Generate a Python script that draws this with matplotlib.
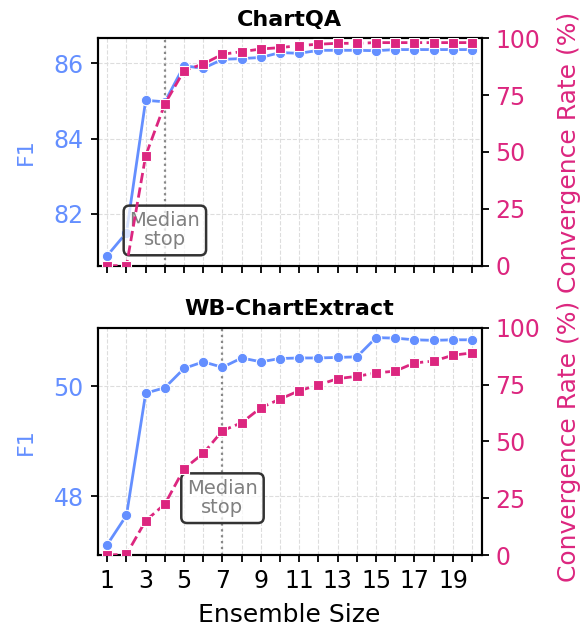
import matplotlib.pyplot as plt

BLAU = "#648FFF"
MAGENTA = "#DC267F"

ensemble_groesse = list(range(1, 21))

# ChartQA
chartqa_f1 = [80.89, 81.50, 85.02, 84.98, 85.94, 85.87, 86.11, 86.13, 86.16, 86.29,
              86.27, 86.35, 86.35, 86.35, 86.34, 86.37, 86.37, 86.37, 86.37, 86.37]
chartqa_konvergenz = [0.0, 0.0, 48.4, 71.2, 85.8, 88.7, 93.0, 94.1, 95.3, 95.9,
                      96.8, 97.4, 97.8, 97.8, 98.1, 98.1, 98.1, 98.1, 98.1, 98.1]
chartqa_median = 4

# WB-ChartExtract
wb_f1 = [47.12, 47.65, 49.87, 49.97, 50.32, 50.44, 50.34, 50.51, 50.44, 50.50,
         50.51, 50.51, 50.52, 50.53, 50.88, 50.87, 50.84, 50.83, 50.84, 50.84]
wb_konvergenz = [0.0, 0.3, 15.1, 22.4, 38.0, 44.7, 54.7, 58.2, 64.8, 68.6,
                 72.3, 74.8, 77.6, 78.6, 80.1, 80.9, 84.5, 85.3, 87.9, 88.9]
wb_median = 7

x_ticks = list(range(1, 21))
x_tick_labels = [str(i) if i % 2 == 1 else "" for i in x_ticks]

plt.rcParams['font.family'] = ['DejaVu Sans']
plt.rcParams['font.size'] = 17

fig = plt.figure(figsize=(5.87, 6.32), dpi=100)
ax_oben = fig.add_axes([0.1664, 0.5796, 0.6542, 0.3598])
ax_unten = fig.add_axes([0.1664, 0.1218, 0.6542, 0.3597])


def Panel_Zeichnen(ax, titel, f1, konvergenz, median, f1_lim, f1_ticks, text_y, x_labels):
    ax.grid(True, color="#dddddd", linestyle="--", linewidth=0.8)
    ax.set_axisbelow(True)
    ax.plot(ensemble_groesse, f1, color=BLAU, marker="o", markersize=7.5,
            markeredgecolor="white", markeredgewidth=0.8, linewidth=2, zorder=3)
    ax.axvline(median, color="#888888", linestyle=":", linewidth=1.6, zorder=2)
    ax.text(median, text_y, "Median\nstop", transform=ax.get_xaxis_transform(),
            ha="center", va="center", color="#808080", fontsize=14, zorder=5,
            linespacing=1.0,
            bbox=dict(boxstyle="round,pad=0.3", facecolor=(1, 1, 1, 0.75),
                      edgecolor="#333333", linewidth=1.8))
    ax.set_xlim(0.5, 20.5)
    ax.set_ylim(*f1_lim)
    ax.set_yticks(f1_ticks)
    ax.set_xticks(x_ticks)
    ax.set_xticklabels(x_labels)
    ax.set_ylabel("F1", color=BLAU, fontsize=16, labelpad=13)
    ax.tick_params(axis="y", labelcolor=BLAU)
    ax.tick_params(length=5, width=1.3, pad=5)
    ax.set_title(titel, fontsize=16, fontweight="bold", pad=9)

    ax2 = ax.twinx()
    ax2.plot(ensemble_groesse, konvergenz, color=MAGENTA, marker="s", markersize=7,
             markeredgecolor="white", markeredgewidth=0.8, linewidth=2,
             linestyle="--", zorder=3)
    ax2.set_ylim(0, 100)
    ax2.set_yticks([0, 25, 50, 75, 100])
    ax2.set_ylabel("Convergence Rate (%)", color=MAGENTA, fontsize=18, labelpad=12)
    ax2.tick_params(axis="y", labelcolor=MAGENTA, length=5, width=1.3, pad=5)
    for a in (ax, ax2):
        for spine in a.spines.values():
            spine.set_linewidth(1.5)
    return ax2


Panel_Zeichnen(ax_oben, "ChartQA", chartqa_f1, chartqa_konvergenz, chartqa_median,
               (80.62, 86.67), [82, 84, 86], 0.155, [""] * 20)
Panel_Zeichnen(ax_unten, "WB-ChartExtract", wb_f1, wb_konvergenz, wb_median,
               (46.93, 51.06), [48, 50], 0.25, x_tick_labels)
ax_unten.set_xlabel("Ensemble Size", fontsize=18, labelpad=7)

plt.savefig("out.png", dpi=100)
